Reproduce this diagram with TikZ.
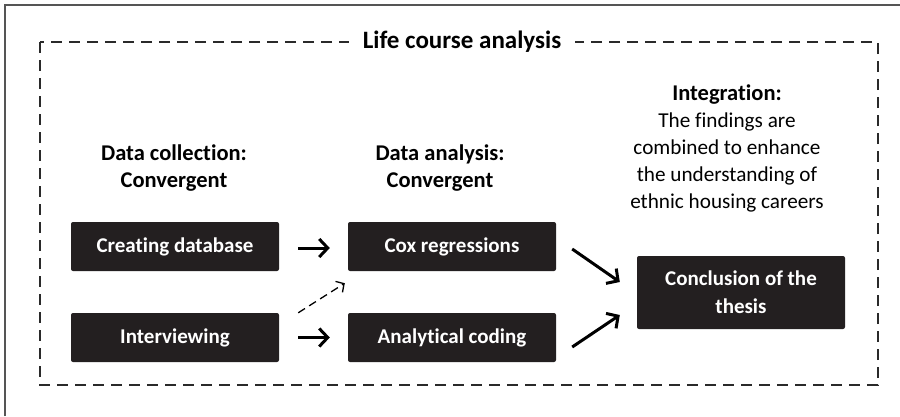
\documentclass[tikz,border=0pt]{standalone}
\usepackage{fontspec}
\setmainfont[Ligatures={NoCommon}]{Carlito}
\usetikzlibrary{arrows.meta,calc}
\definecolor{boxfill}{HTML}{231F20}
\definecolor{framegray}{HTML}{555555}
\definecolor{dashcol}{HTML}{2A2A2A}
\begin{document}
\begin{tikzpicture}[x=1pt,y=-1pt,
  stagebox/.style={fill=boxfill,draw=none,rounded corners=2pt,text=white,
    font=\bfseries\fontsize{21}{28}\selectfont,minimum width=208pt,inner sep=0pt,
    align=center},
  lbl/.style={align=center,font=\fontsize{21.2}{27}\selectfont,inner sep=0pt},
  bigarrow/.style={line width=3pt,-{Straight Barb[length=8.5pt,width=18pt,line width=3pt]}},
  thinarrow/.style={line width=1.3pt,dash pattern=on 8pt off 5pt,-{Straight Barb[length=6pt,width=13pt,line width=1.3pt]}}
]
\useasboundingbox (0,0) rectangle (900,416);
% outer frame (partly cut off)
\draw[framegray,line width=1.5pt] (5,416) -- (5,5) -- (900,5);
% dashed frame
\draw[dashcol,line width=1.6pt,dash pattern=on 11pt off 7pt] (40,42) rectangle (878,385);
\node[fill=white,inner xsep=14pt,inner ysep=2pt,font=\bfseries\fontsize{25}{28}\selectfont] (title) at (462,42) {Life course analysis};
% labels
\node[lbl,font=\bfseries\fontsize{22.5}{27}\selectfont] (lcol) at (174,168.5) {Data collection:\\Convergent};
\node[lbl,font=\bfseries\fontsize{22.5}{27}\selectfont] (lana) at (440,168.5) {Data analysis:\\Convergent};
\node[lbl] (lint) at (727,148) {{\bfseries\fontsize{22.5}{27}\selectfont Integration:}\\The findings are\\combined to enhance\\the understanding of\\ethnic housing careers};
% boxes
\node[stagebox,minimum height=49pt] (cd) at (175,246.5) {Creating database};
\node[stagebox,minimum height=49pt] (iv) at (175,337.5) {Interviewing};
\node[stagebox,minimum height=49pt] (cr) at (452,246.5) {Cox regressions};
\node[stagebox,minimum height=49pt] (ac) at (452,337.5) {Analytical coding};
\node[stagebox,minimum height=73pt] (ct) at (741,292.5) {Conclusion of the\\thesis};
% arrow end points
\coordinate (d0) at ($(iv.north east)+(19,0)$);
\coordinate (d1) at ($(cr.south west)+(-3,12)$);
\coordinate (a0) at ($(cr.east)+(16,2.5)$);
\coordinate (a1) at ($(ct.west)+(-17,-10.5)$);
\coordinate (b0) at ($(ac.east)+(16,9.5)$);
\coordinate (b1) at ($(ct.west)+(-17,22.5)$);
% connectors
\draw[bigarrow,shorten <=19pt,shorten >=18pt] ($(cd.east)+(0,1.5)$) -- ($(cr.west)+(0,1.5)$);
\draw[bigarrow,shorten <=19pt,shorten >=18pt] (iv.east) -- (ac.west);
\draw[thinarrow] (d0) -- (d1);
\draw[bigarrow] (a0) -- (a1);
\draw[bigarrow] (b0) -- (b1);
\end{tikzpicture}
\end{document}
